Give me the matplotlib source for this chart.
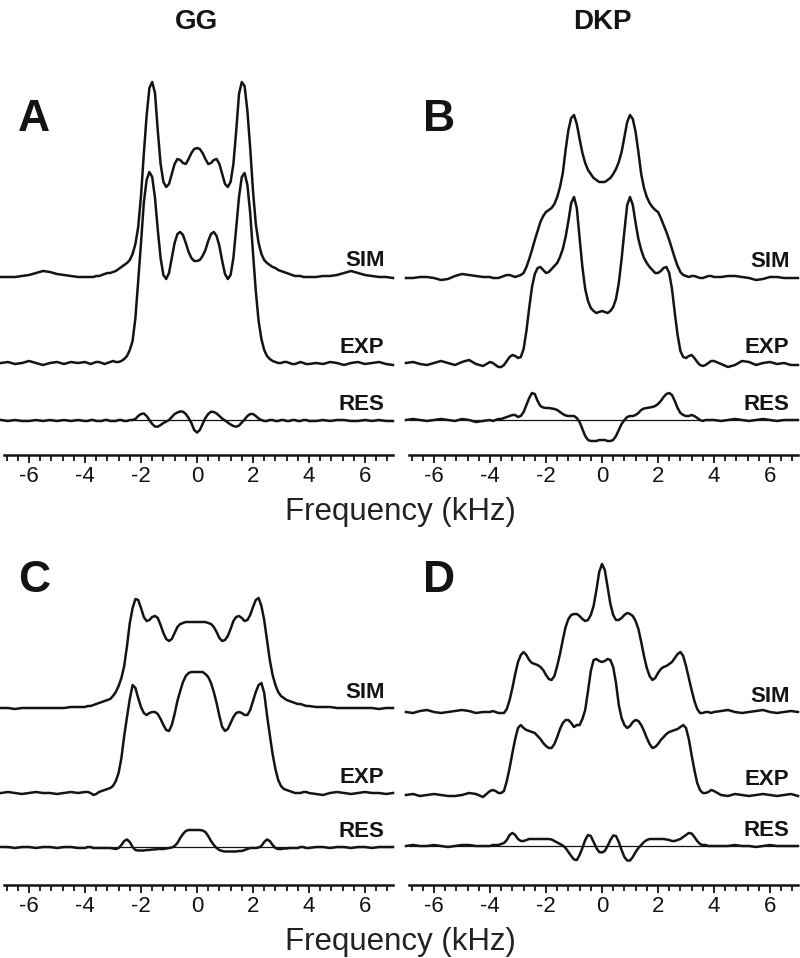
import numpy as np
import matplotlib
matplotlib.use("Agg")
import matplotlib.pyplot as plt
from matplotlib.ticker import MultipleLocator

plt.rcParams["font.family"] = ["Liberation Sans", "DejaVu Sans"]
plt.rcParams["axes.unicode_minus"] = False

# frequency grid (kHz): 0.25 kHz in the wings, 0.1 kHz in the centre
FREQ = np.round(np.concatenate([np.arange(-7.0, -4.0, 0.25),
                                np.arange(-4.0, 4.05, 0.1),
                                np.arange(4.25, 7.05, 0.25)]), 2)

# intensities (arbitrary units), one value per FREQ point
A_SIM = [
    -1, -1, -1, 0, 1, 3, 5, 4, 2, 1, 0, -1,
    -1, -1, -1, -1, 0, 0, 1, 2, 3, 3,
    4, 5, 7, 9, 11, 13, 16, 22, 32, 49,
    80, 122, 160, 188, 194, 183, 145, 112, 94, 89,
    92, 102, 112, 117, 116, 113, 112, 117, 123, 127,
    128, 127, 123, 117, 112, 113, 116, 117, 112, 102,
    92, 89, 94, 112, 145, 182, 194, 190, 165, 128,
    85, 52, 33, 22, 16, 13, 11, 9, 8, 6,
    5, 4, 3, 2, 1, 0, 0, 0, -1, -1,
    -1,
    -1, 0, 0, 1, 3, 5, 3, 1, 0, -1, -1, -2,
]
A_EXP = [
    0, 1, -1, 0, 2, 0, -2, 0, 1, -1, 1, 0,
    1, 0, -1, 0, 1, 1, 0, -1, 0, 1,
    2, 1, 1, 2, 4, 7, 13, 22, 45, 82,
    120, 160, 183, 191, 186, 165, 133, 105, 88, 84,
    90, 105, 120, 129, 131, 128, 120, 111, 105, 102,
    102, 103, 107, 113, 122, 129, 131, 127, 117, 102,
    89, 84, 88, 105, 135, 166, 186, 190, 178, 150,
    110, 72, 42, 24, 13, 7, 4, 2, 1, 0,
    0, 1, 1, 0, -1, -1, 0, 1, 0, -1,
    -1,
    0, -1, 1, 0, -2, 0, 1, -1, 0, 1, -1, -2,
]
A_RES = [
    0, -1, 0, -1, -1, 0, -1, 0, -1, 0, -1, 0,
    -1, -1, 0, 0, -1, -1, -1, 0, 0, -1,
    -1, -1, 0, 0, -1, -1, 0, 0, 1, 4,
    6, 6.5, 4, 0, -4, -6.5, -6.7, -5, -3, -1.5,
    0, 3, 6, 7.5, 8.5, 8.3, 6, 2, -3, -10,
    -12.5, -10, -4, 2, 6, 8.3, 8, 6.5, 4, 1.5,
    -0.5, -2.5, -4.5, -6, -6.7, -5.5, -2.5, 0.5, 4, 6,
    6, 4, 1.5, 0, -1, -1, 0, 0, -1, -1,
    0, 0, -1, -1, 0, 0, -1, -1, 0, 0,
    -1,
    -1, 0, -1, 0, 0, -1, -1, 0, -1, 0, -1, -1,
]

B_SIM = [
    -1, -1, 0, 0, -1, -3, -2, 1, 3, 2, 1, 0,
    0, -1, -1, -1, 0, 1, 2, 2, 1, 0,
    1, 2, 4, 10, 18, 27, 37, 46, 55, 61,
    65, 67, 69, 73, 80, 90, 104, 127, 147, 159,
    162, 153, 138, 124, 114, 107, 103, 99, 97, 95,
    95, 95, 97, 99, 103, 108, 115, 125, 140, 155,
    162, 158, 145, 125, 103, 89, 80, 74, 70, 67,
    65, 59, 52, 45, 37, 28, 19, 11, 5, 2,
    1, 0, 1, 1, 0, -1, -1, 0, 1, 1,
    0,
    0, 1, 1, 0, -1, -3, -2, 0, 0, -1, -1, -1,
]
B_EXP = [
    0, 1, -1, -2, 0, 2, 0, -2, 1, 3, -1, -3,
    1, 0, -2, -4, -4, -2, 2, 6, 8, 7,
    5, 6, 14, 32, 55, 76, 89, 95, 96, 93,
    90, 91, 94, 97, 100, 106, 114, 126, 142, 160,
    166, 155, 125, 96, 74, 62, 55, 52, 50, 51,
    52, 51, 50, 52, 56, 64, 80, 104, 132, 158,
    166, 158, 140, 124, 113, 105, 100, 96, 93, 90,
    90, 92, 95, 96, 90, 74, 50, 28, 12, 6,
    5, 7, 8, 5, 1, -2, -3, -2, 0, 2,
    2,
    -1, -4, -2, 2, 1, -2, 0, 1, -1, 0, -2, -2,
]
B_RES = [
    0, 1, 0, -1, 0, 1, 0, -1, 1, 0, -2, -1,
    0, -1, 0, 1, 1, 2, 3, 4, 5, 5,
    3, 4, 8, 15, 22, 27, 26, 19, 14, 12.5,
    12, 12, 11.5, 11, 10, 8, 6, 4.5, 4, 4,
    4, 2, -2, -9, -16, -20, -21, -21, -21, -20,
    -20, -20, -21, -21, -20, -16, -10, -4, 0, 3,
    4, 4, 5, 7, 10, 11.5, 12, 12.5, 13, 14,
    16, 19, 23, 26, 27, 25, 19, 12, 7, 5,
    4, 4, 5, 4, 2, 0, -1, 0, 0, 0,
    0,
    -1, 0, 1, 0, -1, 0, 1, 0, -1, 0, 0, 0,
]

C_SIM = [
    0, 0, -1, 0, 0, 0, 0, 0, 0, 0, 1, 1,
    1, 2, 2, 3, 4, 5, 6, 7, 8, 9,
    12, 16, 22, 30, 42, 62, 85, 100, 109, 108,
    100, 91, 87, 88, 91, 92, 90, 83, 75, 69,
    67, 69, 75, 81, 84, 85, 86, 86, 86, 86,
    86, 86, 86, 86, 85, 84, 81, 76, 70, 67,
    68, 72, 79, 87, 91, 92, 90, 87, 88, 93,
    101, 108, 110, 102, 88, 68, 48, 33, 23, 16,
    12, 10, 8, 7, 6, 5, 4, 4, 3, 2,
    2,
    1, 1, 1, 0, 0, 0, 0, 0, 0, -1, 0, 0,
]
C_EXP = [
    0, 1, 0, -1, 0, 1, 0, 0, -1, 0, 1, 0,
    1, 1, 0, -2, -1, 1, 2, 3, 4, 5,
    7, 12, 20, 35, 57, 76, 94, 108, 105, 95,
    86, 80, 78, 80, 81, 81, 79, 74, 68, 63,
    62, 68, 79, 92, 102, 111, 117, 120, 121, 121,
    121, 121, 121, 119, 116, 110, 101, 90, 77, 66,
    62, 64, 70, 76, 80, 81, 80, 78, 78, 83,
    92, 101, 108, 110, 100, 78, 58, 39, 24, 13,
    7, 4, 3, 2, 1, 0, 0, 0, 1, 1,
    0,
    -1, -2, 0, 1, 0, -1, 0, 1, 0, 0, -1, 0,
]
C_RES = [
    0, 0, -1, 0, 0, -1, 0, 0, -1, 0, 0, -1,
    -1, 0, 0, -1, -1, -1, -1, -1, -1, -1,
    -1.5, -2, -1, 2, 6, 7.5, 5, 0, -3, -3.5,
    -3.5, -3.5, -3, -3, -2.5, -2.5, -2, -2, -2, -1.5,
    -1, -0.5, 1, 4, 9, 13, 16, 17, 17, 17,
    17, 17, 16.5, 15, 11, 6, 2, -1, -3, -4,
    -4.5, -4.5, -4.5, -4.5, -4.5, -4, -4, -3, -2, -1,
    -1, -1, -0.5, 1, 5, 7.5, 6, 2, -1, -2,
    -2, -1.5, -1.5, -1, -1, -1, -1, 0, 0, -1,
    -1,
    0, 0, -1, 0, 0, -1, 0, 0, -1, 0, 0, 0,
]

D_SIM = [
    0, -1, 1, 2, 0, -1, 0, 1, 2, 1, -1, 0,
    0, 1, 0, -1, -1, -1, 3, 12, 24, 38,
    50, 57, 60, 57, 52, 49, 48, 47, 45, 42,
    37, 33, 32, 36, 46, 58, 72, 85, 93, 97,
    98, 98, 96, 93, 91, 92, 97, 106, 122, 140,
    148, 142, 125, 108, 97, 92, 92, 94, 97, 99,
    98, 96, 91, 83, 70, 56, 44, 36, 32, 34,
    39, 43, 45, 46, 48, 50, 54, 58, 60, 56,
    46, 34, 22, 11, 3, -1, -1, 0, 0, -1,
    0,
    1, 2, 0, -1, 0, 1, 2, 0, -1, 0, 1, 0,
]
D_EXP = [
    0, 1, -1, 0, 1, 0, -1, -1, 0, 2, 1, -2,
    4, 5, 4, 2, 2, 4, 14, 27, 42, 56,
    67, 70, 67, 65, 64, 63, 62, 59, 56, 52,
    49, 47, 47, 51, 58, 66, 72, 75, 75, 72,
    68, 70, 70, 76, 85, 104, 124, 135, 136, 134,
    133, 134, 136, 135, 128, 112, 90, 77, 70, 67,
    69, 73, 75, 74, 70, 64, 57, 51, 47, 48,
    51, 55, 58, 61, 63, 64, 65, 66, 68, 70,
    67, 56, 40, 25, 12, 5, 2, 2, 3, 5,
    4,
    0, -1, 1, 0, -1, 0, 1, 0, -1, 0, 1, -1,
]
D_RES = [
    0, 1, 0, 0, 1, 0, -1, 0, 1, 1, 0, 0,
    0, 1, 1, 1, 2, 3, 6, 11, 13, 11,
    7, 5, 5, 6, 7, 7, 7, 7, 7, 7,
    7, 7, 6.5, 5, 3.5, 2, 0.5, -2, -6, -10,
    -13.5, -14, -9, -2, 6, 11, 10, 4, -2, -6,
    -6.5, -5, 0, 6, 10.5, 10, 4, -4, -11, -14.5,
    -14.5, -11, -6, -2, 1, 4, 6, 7, 7, 7,
    7, 7, 7, 6.5, 6, 5, 5, 6, 7, 9,
    11, 13, 12.5, 9, 5, 2, 1, 1, 0, 0,
    0,
    0, 0, 1, 0, 0, -1, 0, 1, 0, 0, 0, 0,
]

PANELS = ["A", "B", "C", "D"]
TRACES = {"A": (A_SIM, A_EXP, A_RES), "B": (B_SIM, B_EXP, B_RES),
          "C": (C_SIM, C_EXP, C_RES), "D": (D_SIM, D_EXP, D_RES)}
TRACE_NAMES = ["SIM", "EXP", "RES"]
TITLES = ["GG", "DKP"]

for name in PANELS:
    for lbl, tr in zip(TRACE_NAMES, TRACES[name]):
        if len(tr) != len(FREQ):
            raise ValueError(f"{name} {lbl}: {len(tr)} != {len(FREQ)}")

# layout in pixels: x of 0 kHz, axes top, axes bottom (axis line)
W, H = 800, 958
KHZ_PX = 28.0
XMIN, XMAX = -6.9, 7.0
LAYOUT = {"A": (197, 60, 455), "B": (602, 60, 455),
          "C": (197, 540, 885), "D": (602, 540, 885)}
# baseline heights of SIM / EXP / RES above the axis line (px)
OFFSETS = {"A": (179, 92, 35), "B": (178, 92, 35),
           "C": (177, 92, 38), "D": (173, 90, 39)}
INK = "#141414"

fig = plt.figure(figsize=(W / 100, H / 100), dpi=100)


def fx(px):
    return px / W


def fy(py):
    return 1 - py / H


for name in PANELS:
    zero, top, bot = LAYOUT[name]
    x0 = zero + XMIN * KHZ_PX
    x1 = zero + XMAX * KHZ_PX
    ax = fig.add_axes([fx(x0), fy(bot), (x1 - x0) / W, (bot - top) / H])
    ax.set_xlim(XMIN, XMAX)
    ax.set_ylim(0, bot - top)

    for lbl, tr, off in zip(TRACE_NAMES, TRACES[name], OFFSETS[name]):
        ax.plot(FREQ, np.asarray(tr, dtype=float) + off, color=INK, lw=1.8,
                solid_joinstyle="round", clip_on=False)
        ax.text(6.7, off + 10, lbl, ha="right", va="baseline",
                fontsize=16, fontweight="bold", color=INK)
    ax.axhline(OFFSETS[name][2], color=INK, lw=0.9)

    for side in ["left", "right", "top"]:
        ax.spines[side].set_visible(False)
    ax.spines["bottom"].set_linewidth(1.8)
    ax.spines["bottom"].set_color(INK)
    ax.set_yticks([])
    ax.xaxis.set_major_locator(MultipleLocator(2))
    ax.xaxis.set_minor_locator(MultipleLocator(0.4))
    ax.tick_params(axis="x", which="major", direction="out", length=6,
                   width=1.3, color=INK, labelsize=16, labelcolor=INK, pad=2)
    ax.tick_params(axis="x", which="minor", direction="out", length=4.5,
                   width=1.3, color=INK)
    ax.patch.set_visible(False)

    # panel letter
    fig.text(fx(zero - 163), fy(top + 71 if top < 100 else top + 52), name,
             ha="center", va="baseline", fontsize=32, fontweight="bold",
             color=INK)

for title, zero in zip(TITLES, [197, 602]):
    fig.text(fx(zero), fy(29), title, ha="center", va="baseline",
             fontsize=20, fontweight="bold", color=INK)

for base in [520, 950]:
    fig.text(fx(400), fy(base), "Frequency (kHz)", ha="center", va="baseline",
             fontsize=22.5, color="#222222")

fig.savefig("out.png", dpi=100)
